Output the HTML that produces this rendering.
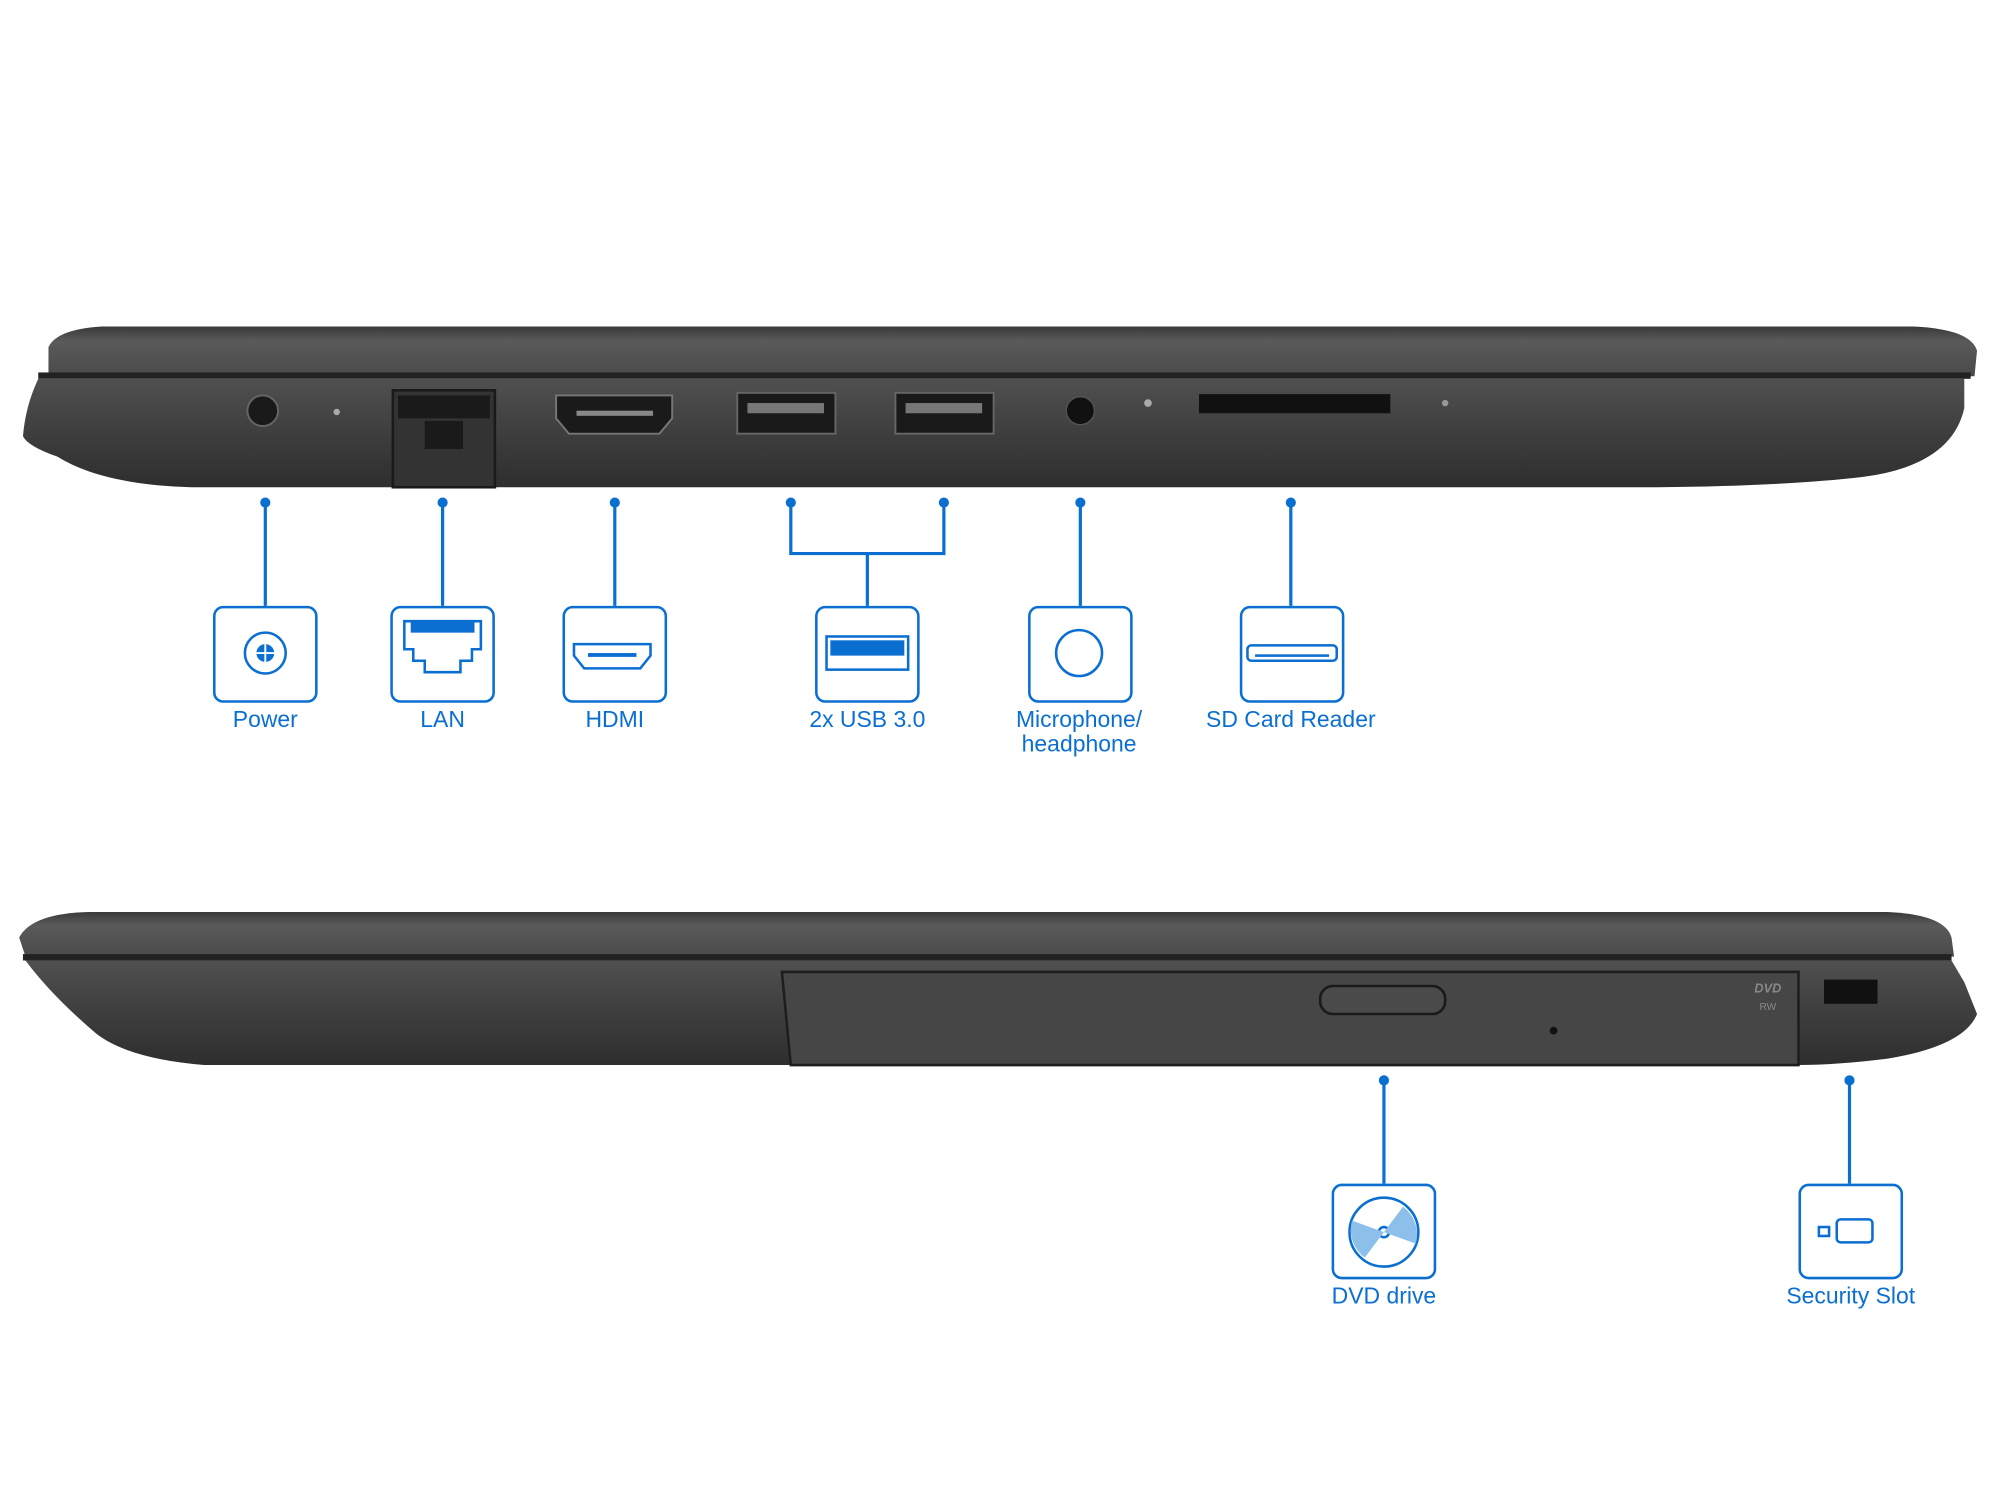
<!DOCTYPE html>
<html><head><meta charset="utf-8"><style>
html,body{margin:0;padding:0;background:#fff;}
svg{display:block;}
text{font-family:"Liberation Sans",sans-serif;fill:#0a6fd1;font-size:18px;}
</style></head><body>
<svg width="2000" height="1500" viewBox="0 0 1568 1176" xmlns="http://www.w3.org/2000/svg">
<defs>
<linearGradient id="lid" x1="0" y1="0" x2="0" y2="1"><stop offset="0" stop-color="#3a3a3a"/><stop offset="0.3" stop-color="#5a5a5a"/><stop offset="1" stop-color="#4a4a4a"/></linearGradient>
<linearGradient id="base" x1="0" y1="0" x2="0" y2="1"><stop offset="0" stop-color="#505050"/><stop offset="0.5" stop-color="#3e3e3e"/><stop offset="1" stop-color="#2e2e2e"/></linearGradient>
</defs>
<!-- TOP LAPTOP -->
<path d="M38 272 Q45 258 80 256 L1500 256 Q1545 258 1550 275 L1548 295 L38 295 Z" fill="url(#lid)"/>
<rect x="30" y="292" width="1515" height="5" fill="#222"/>
<path d="M30 297 L1540 297 L1540 320 Q1530 365 1460 374 Q1400 381 1300 382 L150 382 Q80 380 45 358 Q22 350 18 342 Q20 318 30 297 Z" fill="url(#base)"/>
<circle cx="206" cy="322" r="12" fill="#1a1a1a" stroke="#666" stroke-width="1.5"/>
<circle cx="264" cy="323" r="2.5" fill="#aaa"/>
<rect x="308" y="306" width="80" height="76" fill="#333" stroke="#1a1a1a" stroke-width="2"/>
<rect x="312" y="310" width="72" height="18" fill="#1a1a1a"/>
<rect x="333" y="330" width="30" height="22" fill="#1a1a1a"/>
<path d="M436 310 L527 310 L527 328 L517 340 L446 340 L436 328 Z" fill="#1a1a1a" stroke="#777" stroke-width="1.5"/>
<rect x="452" y="322" width="60" height="4" fill="#888"/>
<rect x="578" y="308" width="77" height="32" fill="#1a1a1a" stroke="#666" stroke-width="1.5"/>
<rect x="586" y="316" width="60" height="8" fill="#777"/>
<rect x="702" y="308" width="77" height="32" fill="#1a1a1a" stroke="#666" stroke-width="1.5"/>
<rect x="710" y="316" width="60" height="8" fill="#777"/>
<circle cx="847" cy="322" r="11" fill="#111" stroke="#555"/>
<circle cx="900" cy="316" r="3" fill="#aaa"/>
<rect x="940" y="309" width="150" height="15" fill="#111"/>
<circle cx="1133" cy="316" r="2.5" fill="#999"/>
<g fill="#0a6fd1">
<circle cx="208" cy="394" r="4"/><circle cx="347" cy="394" r="4"/><circle cx="482" cy="394" r="4"/>
<circle cx="620" cy="394" r="4"/><circle cx="740" cy="394" r="4"/><circle cx="847" cy="394" r="4"/><circle cx="1012" cy="394" r="4"/>
<circle cx="1085" cy="847" r="4"/><circle cx="1450" cy="847" r="4"/>
</g>
<g stroke="#0a6fd1" stroke-width="2.5" fill="none">
<path d="M208 394V475M347 394V475M482 394V475M847 394V475M1012 394V475"/>
<path d="M620 394V434H740V394M680 434V475"/>
<path d="M1085 847V928M1450 847V928"/>
</g>
<g stroke="#0a6fd1" stroke-width="2" fill="#fff">
<rect x="168" y="476" width="80" height="74" rx="7"/>
<rect x="307" y="476" width="80" height="74" rx="7"/>
<rect x="442" y="476" width="80" height="74" rx="7"/>
<rect x="640" y="476" width="80" height="74" rx="7"/>
<rect x="807" y="476" width="80" height="74" rx="7"/>
<rect x="973" y="476" width="80" height="74" rx="7"/>
<rect x="1045" y="929" width="80" height="73" rx="7"/>
<rect x="1411" y="929" width="80" height="73" rx="7"/>
</g>
<!-- icons -->
<g stroke="#0a6fd1" stroke-width="2" fill="none">
<circle cx="208" cy="512" r="16"/>
<path d="M317 487H377V509H370V518H361V527H333V518H324V509H317Z"/>
<path d="M450 505H510V514L502 524H458L450 514Z"/>
<rect x="648" y="499" width="64" height="26"/>
<circle cx="846" cy="512" r="18"/>
<rect x="978" y="506" width="70" height="12" rx="3"/>
<circle cx="1085" cy="966" r="27"/>
<circle cx="1085" cy="966" r="4"/>
<rect x="1440" y="956" width="28" height="18" rx="3"/>
<rect x="1426" y="962" width="8" height="7"/>
</g>
<circle cx="208" cy="512" r="7" fill="#0a6fd1"/>
<path d="M201 512H215M208 505V519" stroke="#fff" stroke-width="1.5"/>
<rect x="322" y="487" width="50" height="9" fill="#0a6fd1"/>
<rect x="461" y="512" width="38" height="3" fill="#0a6fd1"/>
<rect x="651" y="502" width="58" height="12" fill="#0a6fd1"/>
<rect x="984" y="513" width="58" height="2" fill="#0a6fd1"/>
<path d="M1085 966L1100 946A27 27 0 0 1 1110 975Z M1085 966L1070 986A27 27 0 0 1 1060 957Z" fill="#8cc0ea"/>
<text x="208" y="570" text-anchor="middle">Power</text>
<text x="347" y="570" text-anchor="middle">LAN</text>
<text x="482" y="570" text-anchor="middle">HDMI</text>
<text x="680" y="570" text-anchor="middle">2x USB 3.0</text>
<text x="846" y="570" text-anchor="middle">Microphone/</text>
<text x="846" y="589" text-anchor="middle">headphone</text>
<text x="1012" y="570" text-anchor="middle">SD Card Reader</text>
<text x="1085" y="1022" text-anchor="middle">DVD drive</text>
<text x="1451" y="1022" text-anchor="middle">Security Slot</text>
<!-- BOTTOM LAPTOP -->
<path d="M15 735 Q25 716 70 715 L1480 715 Q1525 717 1530 735 L1532 750 L20 750 Z" fill="url(#lid)"/>
<rect x="18" y="748" width="1512" height="5" fill="#222"/>
<path d="M20 753 L1530 753 L1540 770 L1550 795 Q1540 820 1480 830 Q1440 835 1410 835 L160 835 Q100 830 75 810 Q40 780 20 753 Z" fill="url(#base)"/>
<path d="M613 762 L1410 762 L1410 835 L620 835 Z" fill="#464646" stroke="#1e1e1e" stroke-width="2"/>
<rect x="1035" y="773" width="98" height="22" rx="10" fill="#4a4a4a" stroke="#1a1a1a" stroke-width="2"/>
<circle cx="1218" cy="808" r="3" fill="#111"/>
<rect x="1430" y="768" width="42" height="19" fill="#111"/>
<text x="1386" y="778" text-anchor="middle" style="fill:#888;font-size:10px;font-style:italic;font-weight:bold">DVD</text>
<text x="1386" y="792" text-anchor="middle" style="fill:#888;font-size:8px">RW</text>
</svg>
</body></html>
